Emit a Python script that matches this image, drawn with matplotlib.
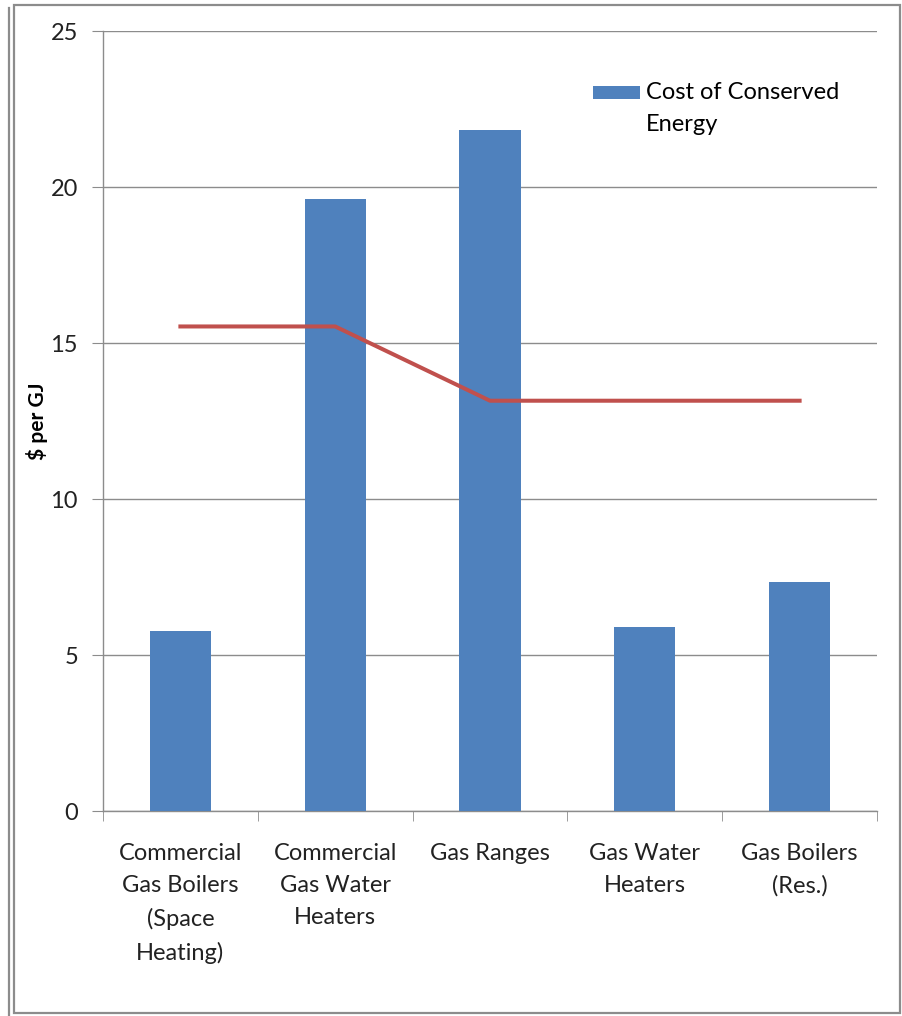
import numpy as np
import matplotlib.pyplot as plt
from matplotlib.patches import Rectangle
from matplotlib.lines import Line2D
from matplotlib.legend_handler import HandlerPatch

categories = ["Commercial\nGas Boilers\n(Space\nHeating)",
              "Commercial\nGas Water\nHeaters",
              "Gas Ranges",
              "Gas Water\nHeaters",
              "Gas Boilers\n(Res.)"]
cost_conserved = [5.78, 19.6, 21.83, 5.9, 7.34]
gas_price = [15.53, 15.53, 13.15, 13.15, 13.15]
y_ticks = [0, 5, 10, 15, 20, 25]

plt.rcParams['font.family'] = ['Lato', 'DejaVu Sans']

fig = plt.figure(figsize=(9.03, 10.16), dpi=100)
W, H = 903, 1016
ax = fig.add_axes([103 / W, 1 - 811 / H, 774 / W, 780 / H])

x = np.arange(len(categories))
bars = ax.bar(x, cost_conserved, width=0.395, color='#4F81BD', zorder=3)
ax.plot(x, gas_price, color='#C0504D', lw=2.9, zorder=4)

ax.set_xlim(-0.5, len(categories) - 0.5)
ax.set_ylim(0, 25)
ax.set_yticks(y_ticks)
ax.set_yticklabels([str(t) for t in y_ticks], fontsize=17, color='#222222')
ax.yaxis.grid(True, color='#8C8C8C', lw=1, zorder=0)
ax.tick_params(axis='y', length=8, color='#8C8C8C', pad=10)

# category labels centred, ticks on the boundaries
ax.set_xticks(x)
ax.set_xticklabels(categories, fontsize=17, color='#222222', linespacing=1.66)
ax.tick_params(axis='x', which='major', length=0, pad=23)
ax.set_xticks(np.arange(-0.5, len(categories)), minor=True)
ax.tick_params(axis='x', which='minor', length=7, color='#8C8C8C')

for s in ['top', 'right']:
    ax.spines[s].set_visible(False)
for s in ['left', 'bottom']:
    ax.spines[s].set_color('#8C8C8C')
    ax.spines[s].set_linewidth(1)

ax.set_ylabel('$ per GJ', fontsize=15, fontweight='bold')
ax.yaxis.set_label_coords(-0.071, 0.5)


# legend swatch sits level with the first text line
def top_swatch(legend, orig_handle, xdescent, ydescent, width, height, fontsize):
    return Rectangle((-xdescent, -ydescent + 11.5), width, height)


leg = ax.legend(handles=[bars.patches[0]], labels=['Cost of Conserved\nEnergy'],
                loc='upper left', bbox_to_anchor=(0.633, 0.935), frameon=False,
                fontsize=17, handlelength=2.0, handleheight=0.45,
                handletextpad=0.25, borderaxespad=0, borderpad=0,
                handler_map={Rectangle: HandlerPatch(patch_func=top_swatch)})
for t in leg.get_texts():
    t.set_linespacing(1.66)

# outer chart frame
fig.add_artist(Rectangle((14 / W, 1 - 1013 / H), 886 / W, 1008 / H,
                         transform=fig.transFigure, fill=False,
                         edgecolor='#8C8C8C', lw=1.6))
fig.add_artist(Line2D([9.5 / W, 9.5 / W], [0, 1 - 8 / H],
                      transform=fig.transFigure, color='#8C8C8C', lw=1.6))

fig.savefig('out.png', dpi=100)
